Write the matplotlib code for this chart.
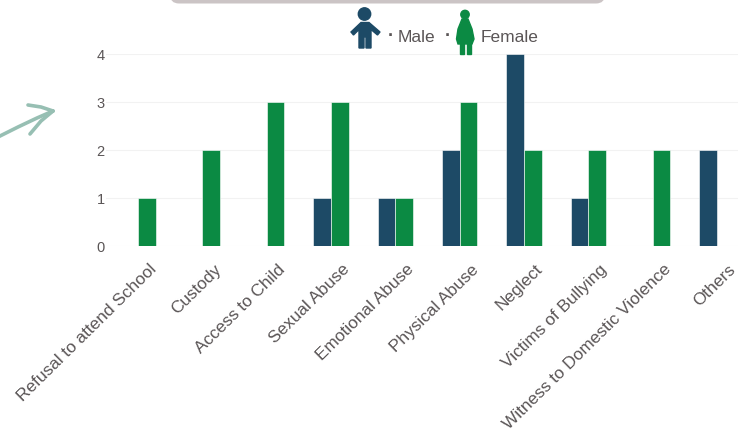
""" Reported cases by category, split by sex.
"""
import numpy as np
import matplotlib
matplotlib.use("Agg")
import matplotlib.pyplot as plt
from matplotlib.patches import Circle, FancyBboxPatch, Polygon, Rectangle
from matplotlib.transforms import ScaledTranslation

categories = [
    "Refusal to attend School", "Custody", "Access to Child", "Sexual Abuse",
    "Emotional Abuse", "Physical Abuse", "Neglect", "Victims of Bullying",
    "Witness to Domestic Violence", "Others",
]
male = [0, 0, 0, 1, 1, 2, 4, 1, 0, 2]
female = [1, 2, 3, 3, 1, 3, 2, 2, 2, 0]
y_ticks = [0, 1, 2, 3, 4]

W, H = 738, 435
NAVY = "#1d4a66"
GREEN = "#0b8a43"
TEXT = "#5a5556"

plt.rcParams["font.family"] = ["Liberation Sans", "DejaVu Sans"]
fig = plt.figure(figsize=(W / 100, H / 100), dpi=100)
# axes run past the right edge of the picture, like the cropped original
ax = fig.add_axes([106 / W, 1 - 246.5 / H, 643 / W, 191.5 / H])

x = np.arange(len(categories))
bar_w = 0.275
ax.bar(x - bar_w / 2, male, bar_w, color=NAVY, edgecolor="white", linewidth=0.4, zorder=3)
ax.bar(x + bar_w / 2, female, bar_w, color=GREEN, edgecolor="white", linewidth=0.4, zorder=3)

ax.set_xlim(-0.5, 9.5)
ax.set_ylim(0, 4)
ax.set_yticks(y_ticks)
ax.set_xticks(x)
ax.set_xticklabels(categories, rotation=44.5, ha="right", rotation_mode="anchor",
                   fontsize=12.4, color=TEXT)
ax.tick_params(axis="x", length=0, pad=11)
ax.tick_params(axis="y", length=0, pad=1, labelsize=10.5, labelcolor=TEXT)
ax.grid(axis="y", color="#f2f2f2", linewidth=0.8, zorder=0)
for side in ax.spines.values():
    side.set_visible(False)

# the rotated labels sit to the right of their group in the original
shift = ScaledTranslation(11 / 100, 0, fig.dpi_scale_trans)
for label in ax.get_xticklabels():
    label.set_transform(label.get_transform() + shift)


def add(patch):
    patch.set_transform(overlay)
    overlay_ax.add_patch(patch)


# pixel-space overlay for the decoration around the chart
overlay_ax = fig.add_axes([0, 0, 1, 1], facecolor="none")
overlay_ax.set_xlim(0, W)
overlay_ax.set_ylim(H, 0)
overlay_ax.axis("off")
overlay = overlay_ax.transData

# grey banner cut by the top edge
add(FancyBboxPatch((170, -30), 435, 34.5, boxstyle="round,pad=0,rounding_size=9",
                   facecolor="#cbc4c5", edgecolor="none"))

# male icon
add(Circle((364.5, 15), 6.2, color=NAVY))
add(Polygon([(351, 33), (361, 23.5), (369, 23.5), (380, 33), (377.5, 36), (371, 30.5), (371, 49),
             (366, 49), (366, 38), (364, 38), (364, 49), (359, 49), (359, 30.5), (353.5, 36)],
            closed=True, color=NAVY))

# female icon
add(Circle((465, 15.5), 4.2, color=GREEN))
add(Polygon([(462, 20), (468, 20), (472, 30), (474, 40), (472, 45), (458, 45), (456.5, 40),
             (458, 30)], closed=True, color=GREEN))
add(Rectangle((459.5, 43), 4, 12, color=GREEN))
add(Rectangle((466.5, 43), 4, 12, color=GREEN))

# legend text
overlay_ax.text(388, 37, "\u00b7", fontsize=13, color=TEXT, ha="left", va="center", weight="bold")
overlay_ax.text(397.5, 37.5, "Male", fontsize=12.5, color=TEXT, ha="left", va="center")
overlay_ax.text(445, 37, "\u00b7", fontsize=13, color=TEXT, ha="left", va="center", weight="bold")
overlay_ax.text(481, 37.5, "Female", fontsize=12.5, color=TEXT, ha="left", va="center")

# hand drawn arrow on the left
ARROW = "#97bfb3"
overlay_ax.plot([-2, 18, 37, 53], [138, 128, 119, 112], color=ARROW, lw=2.6, solid_capstyle="round")
overlay_ax.plot([28, 41, 53], [106, 108, 112], color=ARROW, lw=2.6, solid_capstyle="round")
overlay_ax.plot([53, 41, 30], [112, 122, 135], color=ARROW, lw=2.6, solid_capstyle="round")

fig.savefig("out.png", dpi=100)
plt.close(fig)
